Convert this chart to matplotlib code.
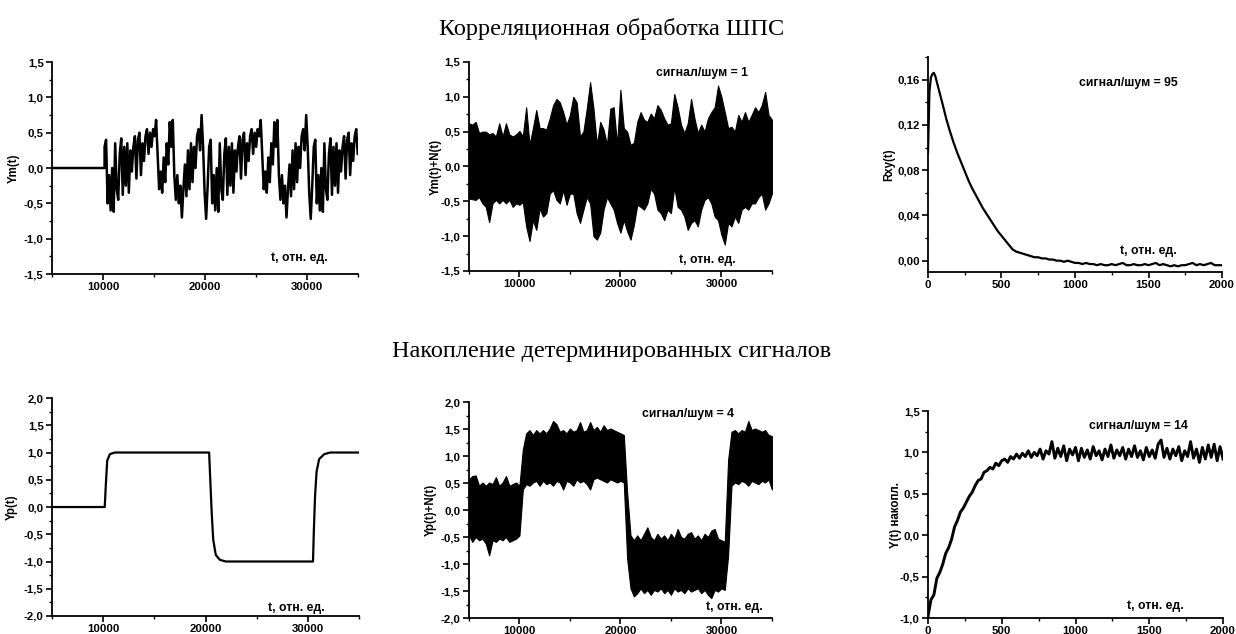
import numpy as np
import matplotlib
matplotlib.use('Agg')
import matplotlib.pyplot as plt
from matplotlib.ticker import MultipleLocator, FuncFormatter

plt.rcParams['font.family'] = ['Liberation Sans', 'DejaVu Sans']
plt.rcParams['font.weight'] = 'bold'

# ---- data ----
# panel 1: Ym(t), zero until the PN sequence starts, one period of the sequence (it repeats)
ym_t_start = 10150
ym_step = 148.6
ym_period = [0.30, 0.40, -0.50, -0.10, -0.60, 0.00, -0.62, 0.35, -0.30, -0.45,
             0.20, 0.42, -0.38, 0.30, -0.25, 0.35, -0.35, 0.25, -0.05, 0.30,
             0.45, -0.15, 0.40, 0.50, -0.10, 0.35, 0.10, 0.45, 0.55, 0.20,
             0.50, 0.30, 0.55, 0.45, 0.68, 0.20, -0.30, -0.05, -0.35, 0.15,
             -0.20, 0.35, 0.05, 0.65, 0.30, 0.68, -0.10, -0.45, -0.10, -0.50,
             -0.25, -0.70, -0.30, 0.05, -0.40, 0.25, -0.30, 0.35, -0.20, 0.30,
             0.00, 0.45, 0.55, 0.25, 0.75, 0.30, -0.35, -0.72, -0.25]

# panel 2: Ym(t)+N(t) band, upper / lower envelope
t_band = np.linspace(5000, 35000, 91)
ymn_hi = [0.62, 0.60, 0.64, 0.48, 0.50, 0.50, 0.46, 0.48, 0.43, 0.62,
          0.43, 0.62, 0.46, 0.43, 0.46, 0.51, 0.43, 0.85, 0.31, 0.55,
          0.81, 0.55, 0.55, 0.53, 0.69, 0.88, 0.97, 0.92, 0.78, 0.60,
          0.74, 1.00, 0.92, 0.43, 0.50, 0.83, 1.21, 0.83, 0.31, 0.64,
          0.53, 0.31, 0.83, 0.85, 0.31, 1.10, 0.55, 0.50, 0.31, 0.34,
          0.64, 0.78, 0.67, 0.64, 0.76, 0.69, 0.88, 0.81, 0.69, 0.60,
          0.62, 1.04, 0.85, 0.60, 0.48, 0.62, 0.97, 0.69, 0.48, 0.60,
          0.50, 0.69, 0.78, 0.85, 1.16, 1.00, 0.78, 0.55, 0.57, 0.50,
          0.74, 0.64, 0.78, 0.64, 0.74, 0.85, 0.78, 0.88, 1.07, 0.74, 0.67]
ymn_lo = [-0.46, -0.47, -0.48, -0.44, -0.53, -0.58, -0.80, -0.53, -0.48, -0.53,
          -0.48, -0.53, -0.48, -0.58, -0.53, -0.55, -0.51, -0.86, -1.07, -0.77,
          -0.91, -0.60, -0.72, -0.67, -0.39, -0.34, -0.48, -0.53, -0.34, -0.55,
          -0.39, -0.39, -0.67, -0.81, -0.62, -0.44, -0.53, -1.00, -1.05, -0.95,
          -0.62, -0.44, -0.53, -0.62, -0.81, -0.95, -0.77, -0.93, -1.05, -0.84,
          -0.55, -0.58, -0.62, -0.53, -0.32, -0.39, -0.62, -0.67, -0.77, -0.62,
          -0.67, -0.30, -0.58, -0.62, -0.72, -0.91, -0.81, -0.77, -0.86, -0.62,
          -0.48, -0.44, -0.53, -0.72, -0.77, -0.98, -1.12, -0.81, -0.86, -0.72,
          -0.81, -0.62, -0.58, -0.62, -0.53, -0.53, -0.44, -0.39, -0.62, -0.53, -0.39]

# panel 3: Rxy(t)
t_rxy = [0, 10, 20, 30, 40, 50, 60, 80, 100] + list(range(125, 2001, 25))
rxy = [0.095, 0.150, 0.162, 0.165, 0.166, 0.163, 0.158, 0.148, 0.138,
       0.125, 0.114, 0.104, 0.095, 0.087, 0.079, 0.071, 0.064, 0.058, 0.052,
       0.046, 0.041, 0.036, 0.031, 0.026, 0.022, 0.018, 0.014, 0.010, 0.008,
       0.007, 0.006, 0.005, 0.004, 0.003, 0.003, 0.002, 0.002, 0.001, 0.001,
       0.000, 0.000, -0.001, 0.000, -0.001, -0.002,
       -0.002, -0.003, -0.002, -0.003, -0.003, -0.004, -0.003, -0.004, -0.004, -0.003,
       -0.004, -0.003, -0.002, -0.004, -0.004, -0.003, -0.004, -0.004, -0.003, -0.004,
       -0.003, -0.002, -0.004, -0.003, -0.004, -0.005, -0.004, -0.005, -0.004, -0.004,
       -0.003, -0.002, -0.004, -0.003, -0.004, -0.003, -0.002, -0.004, -0.004, -0.004]

# panel 4: Yp(t)
t_yp = [5000, 10150, 10260, 10390, 10650, 11140, 20350, 20450, 20600, 20750, 21000,
        21400, 22000, 30500, 30580, 30700, 30850, 31100, 31600, 32200, 35000]
yp = [0, 0, 0.42, 0.85, 0.97, 1.0, 1.0, 0.55, -0.10, -0.60, -0.88,
      -0.97, -1.0, -1.0, -0.45, 0.20, 0.65, 0.88, 0.97, 1.0, 1.0]

# panel 5: Yp(t)+N(t) band, upper / lower envelope
ypn_hi = [0.57, 0.63, 0.64, 0.45, 0.51, 0.45, 0.51, 0.48, 0.61, 0.45,
          0.51, 0.63, 0.45, 0.48, 0.51, 0.45, 1.12, 1.42, 1.48, 1.39,
          1.48, 1.42, 1.48, 1.42, 1.51, 1.65, 1.59, 1.45, 1.48, 1.42,
          1.51, 1.45, 1.48, 1.63, 1.45, 1.48, 1.63, 1.48, 1.54, 1.45,
          1.57, 1.48, 1.51, 1.48, 1.45, 1.42, 1.39, 0.32, -0.47, -0.56,
          -0.47, -0.56, -0.44, -0.32, -0.50, -0.56, -0.44, -0.53, -0.47, -0.56,
          -0.44, -0.53, -0.35, -0.50, -0.53, -0.44, -0.41, -0.53, -0.47, -0.56,
          -0.44, -0.50, -0.38, -0.35, -0.53, -0.56, -0.59, 0.93, 1.45, 1.48,
          1.42, 1.48, 1.45, 1.65, 1.48, 1.51, 1.48, 1.45, 1.48, 1.39, 1.37]
ypn_lo = [-0.47, -0.59, -0.50, -0.56, -0.53, -0.62, -0.84, -0.56, -0.59, -0.53,
          -0.56, -0.50, -0.59, -0.56, -0.53, -0.47, 0.38, 0.48, 0.45, 0.51,
          0.54, 0.45, 0.54, 0.48, 0.51, 0.45, 0.54, 0.51, 0.38, 0.54,
          0.51, 0.45, 0.57, 0.51, 0.54, 0.48, 0.38, 0.57, 0.60, 0.57,
          0.54, 0.51, 0.57, 0.54, 0.51, 0.54, 0.51, -0.90, -1.45, -1.60,
          -1.54, -1.45, -1.54, -1.48, -1.57, -1.48, -1.51, -1.45, -1.54, -1.48,
          -1.57, -1.45, -1.51, -1.48, -1.54, -1.45, -1.51, -1.48, -1.45, -1.54,
          -1.48, -1.57, -1.63, -1.48, -1.51, -1.45, -1.48, -0.84, 0.45, 0.51,
          0.48, 0.54, 0.51, 0.45, 0.54, 0.51, 0.48, 0.54, 0.51, 0.57, 0.38]

# panel 6: accumulated Y(t)
t_acc = np.arange(0, 2001, 20)
y_acc = [-0.98, -0.78, -0.72, -0.52, -0.45, -0.35, -0.22, -0.15, -0.05, 0.10,
         0.18, 0.28, 0.33, 0.40, 0.47, 0.52, 0.60, 0.66, 0.68, 0.76,
         0.78, 0.82, 0.80, 0.87, 0.84, 0.90, 0.92, 0.88, 0.95, 0.92,
         0.98, 0.93, 0.99, 0.95, 1.02, 0.94, 1.00, 0.96, 1.04, 0.92,
         1.02, 0.98, 1.13, 0.93, 1.05, 0.95, 1.08, 0.90, 1.04, 0.97,
         1.06, 0.90, 1.05, 0.94, 1.03, 0.92, 1.07, 0.96, 1.02, 0.91,
         1.04, 0.95, 1.09, 0.93, 1.03, 0.96, 1.06, 0.92, 1.04, 0.95,
         1.08, 0.94, 1.02, 0.91, 1.06, 0.95, 1.03, 0.93, 1.10, 1.15,
         0.94, 1.05, 0.92, 1.04, 0.96, 1.07, 0.90, 1.02, 0.95, 1.13,
         0.93, 1.04, 0.88, 1.06, 0.92, 1.09, 0.94, 1.10, 0.90, 1.07, 0.92]

title_top = 'Корреляционная обработка ШПС'
title_bottom = 'Накопление детерминированных сигналов'
xlab = 't, отн. ед.'

ANN_SIZE = 8.8
TICK_SIZE = 8.2


def comma_fmt(dec):
	def f(v, pos):
		if abs(v) < 1e-9:
			v = 0.0
		return f'{v:.{dec}f}'.replace('.', ',')
	return FuncFormatter(f)


def style_axes(ax, xlim, ylim, xmaj, xmin, ymaj, ymin, ydec, ylabel, ylab_x):
	ax.set_xlim(*xlim)
	ax.set_ylim(*ylim)
	ax.spines[['top', 'right']].set_visible(False)
	for s in ['left', 'bottom']:
		ax.spines[s].set_linewidth(1.3)
	ax.xaxis.set_major_locator(MultipleLocator(xmaj))
	ax.xaxis.set_minor_locator(MultipleLocator(xmin))
	ax.yaxis.set_major_locator(MultipleLocator(ymaj))
	ax.yaxis.set_minor_locator(MultipleLocator(ymin))
	ax.yaxis.set_major_formatter(comma_fmt(ydec))
	ax.tick_params(which='major', direction='out', length=4, width=1.2, labelsize=TICK_SIZE, pad=2)
	ax.tick_params(which='minor', direction='out', length=2, width=1.0)
	ax.set_ylabel(ylabel, fontsize=8.3, fontweight='bold')
	ax.yaxis.set_label_coords(ylab_x, 0.5)


def note(ax, x, y, s):
	ax.text(x, y, s, transform=ax.transAxes, ha='center', va='center', fontsize=ANN_SIZE)


fig = plt.figure(figsize=(12.36, 6.34), dpi=100)

ax1 = fig.add_axes([0.0421, 0.5678, 0.2476, 0.3344])
ax2 = fig.add_axes([0.3794, 0.5726, 0.2451, 0.3297])
ax3 = fig.add_axes([0.7508, 0.5710, 0.2379, 0.3391])
ax4 = fig.add_axes([0.0421, 0.0284, 0.2484, 0.3438])
ax5 = fig.add_axes([0.3794, 0.0252, 0.2451, 0.3407])
ax6 = fig.add_axes([0.7508, 0.0252, 0.2387, 0.3265])

# panel 1
n_pts = int((35000 - ym_t_start) / ym_step) + 1
ym_vals = np.tile(ym_period, 3)[:n_pts]
t1 = np.concatenate([[5000, ym_t_start], ym_t_start + np.arange(n_pts) * ym_step])
y1 = np.concatenate([[0, 0], ym_vals])
ax1.plot(t1, y1, color='k', lw=1.8)
style_axes(ax1, (5000, 35000), (-1.5, 1.5), 10000, 5000, 0.5, 0.25, 1, 'Ym(t)', -0.105)
note(ax1, 0.807, 0.075, xlab)

# panel 2
ax2.fill_between(t_band, ymn_lo, ymn_hi, color='k', lw=0.8)
style_axes(ax2, (5000, 35000), (-1.5, 1.5), 10000, 5000, 0.5, 0.25, 1, 'Ym(t)+N(t)', -0.09)
note(ax2, 0.786, 0.053, xlab)
note(ax2, 0.77, 0.947, 'сигнал/шум = 1')

# panel 3
ax3.plot(t_rxy, rxy, color='k', lw=1.6)
style_axes(ax3, (0, 2000), (-0.01, 0.18), 500, 250, 0.04, 0.02, 2, 'Rxy(t)', -0.112)
note(ax3, 0.749, 0.098, xlab)
note(ax3, 0.68, 0.879, 'сигнал/шум = 95')

# panel 4
ax4.plot(t_yp, yp, color='k', lw=1.6)
style_axes(ax4, (5000, 35000), (-2, 2), 10000, 5000, 0.5, 0.25, 1, 'Yp(t)', -0.111)
note(ax4, 0.795, 0.037, xlab)

# panel 5
ax5.fill_between(t_band, ypn_lo, ypn_hi, color='k', lw=0.8)
style_axes(ax5, (5000, 35000), (-2, 2), 10000, 5000, 0.5, 0.25, 1, 'Yp(t)+N(t)', -0.106)
note(ax5, 0.875, 0.05, xlab)
note(ax5, 0.723, 0.945, 'сигнал/шум = 4')

# panel 6
ax6.plot(t_acc, y_acc, color='k', lw=2.1)
style_axes(ax6, (0, 2000), (-1, 1.5), 500, 250, 0.5, 0.25, 1, 'Y(t) накопл.', -0.088)
note(ax6, 0.77, 0.058, xlab)
note(ax6, 0.712, 0.928, 'сигнал/шум = 14')

fig.text(0.495, 1 - 35 / 634, title_top, ha='center', va='baseline', fontsize=17.5,
	family='Liberation Serif', fontweight='normal')
fig.text(0.495, 1 - 357 / 634, title_bottom, ha='center', va='baseline', fontsize=17.5,
	family='Liberation Serif', fontweight='normal')

fig.savefig('out.png', dpi=100)
